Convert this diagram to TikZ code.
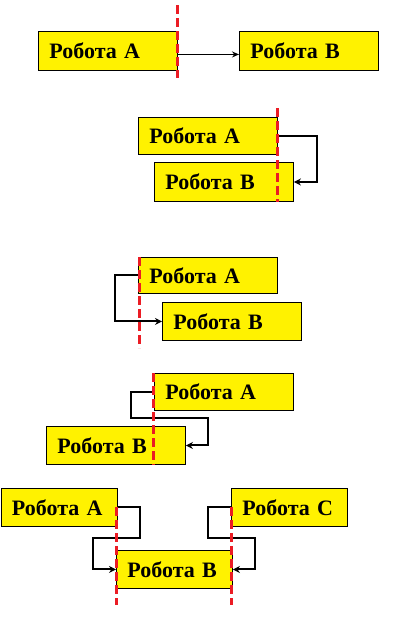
\documentclass[tikz,border=0pt]{standalone}
\usepackage{fontspec}
\setmainfont{Liberation Serif}
\usetikzlibrary{arrows.meta}
\definecolor{cutred}{RGB}{235,28,36}
\begin{document}
\begin{tikzpicture}[x=1pt,y=-1pt,
  robot/.style={draw=black, line width=0.9pt, fill=yellow, rectangle, anchor=north west,
    inner xsep=11pt, inner ysep=0pt, text width=117pt, minimum height=38pt, align=left,
    font=\fontsize{22}{24}\selectfont\bfseries},
  robotsmall/.style={robot, text width=94pt},
  link/.style={draw=black, line width=2pt, -{Stealth[length=7pt,width=7pt]}},
  thinlink/.style={draw=black, line width=1.1pt, -{Stealth[length=7pt,width=6pt]}},
  cut/.style={draw=cutred, line width=3pt, dash pattern=on 9pt off 4pt}]
\useasboundingbox (0,0) rectangle (412,622);

% diagram 1
\node[robot, minimum height=39pt] (a1) at (38,31) {Робота A};
\node[robot, minimum height=39pt] (b1) at (239,31) {Робота B};
\draw[thinlink] ([yshift=-3.5pt]a1.east) -- ([yshift=-3.5pt]b1.west);

% diagram 2
\node[robot, minimum height=37pt] (a2) at (138,117) {Робота A};
\node[robot, minimum height=39pt] (b2) at (154,162) {Робота B};
\draw[link] (a2.east) -- ++(39,0) |- (b2.east);

% diagram 3
\node[robot, minimum height=36pt] (a3) at (138,257) {Робота A};
\node[robot] (b3) at (162,302) {Робота B};
\draw[link] (a3.west) -- ++(-23,0) |- (b3.west);

% diagram 4
\node[robot, minimum height=37pt] (a4) at (154,373) {Робота A};
\node[robot] (b4) at (46,426) {Робота B};
\draw[link] (a4.west) -- ++(-23,0) -- ++(0,26) -- ++(77,0) |- (b4.east);

% diagram 5
\node[robotsmall] (a5) at (0.5,488) {Робота A};
\node[robotsmall] (c5) at (231,488) {Робота C};
\node[robotsmall] (b5) at (116,550) {Робота B};
\draw[link] (a5.east) -- ++(23,0) -- ++(0,31) -- ++(-47,0) |- (b5.west);
\draw[link] (c5.west) -- ++(-23,0) -- ++(0,31) -- ++(47,0) |- (b5.east);

% cut lines
\coordinate (t1) at (177,5);   \coordinate (u1) at (177,78);
\coordinate (t2) at (277,108); \coordinate (u2) at (277,202);
\coordinate (t3) at (139,257); \coordinate (u3) at (139,348);
\coordinate (t4) at (153,373); \coordinate (u4) at (153,465);
\coordinate (t5) at (116,507); \coordinate (u5) at (116,605);
\coordinate (t6) at (231,507); \coordinate (u6) at (231,605);
\draw[cut] (t1) -- (u1);
\draw[cut] (t2) -- (u2);
\draw[cut] (t3) -- (u3);
\draw[cut] (t4) -- (u4);
\draw[cut] (t5) -- (u5);
\draw[cut] (t6) -- (u6);
\end{tikzpicture}
\end{document}
